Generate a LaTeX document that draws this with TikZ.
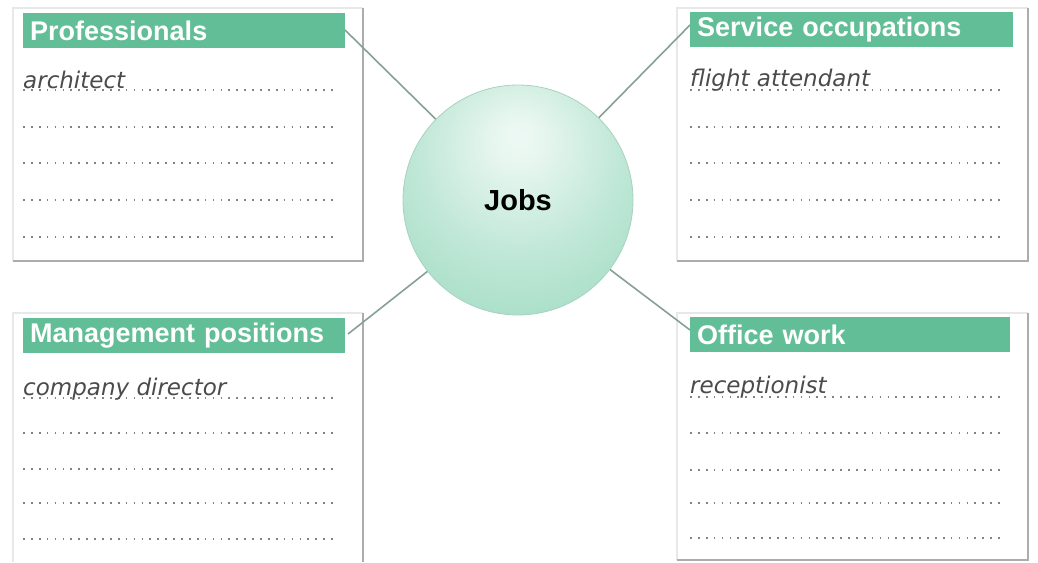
\documentclass[tikz,border=0pt]{standalone}
\usepackage{fontspec}
\setmainfont{Liberation Sans}
\newfontfamily\handfont{DejaVu Sans}
\definecolor{hdrgreen}{RGB}{98,190,150}
\definecolor{mint}{RGB}{140,212,182}
\definecolor{mintdark}{RGB}{110,180,150}
\definecolor{conncol}{RGB}{135,160,150}
\definecolor{handcol}{RGB}{75,75,75}
\definecolor{dotcol}{RGB}{130,130,130}
\pgfdeclareradialshading{jobball}{\pgfpoint{0bp}{14bp}}{%
  color(0bp)=(white!85!mint); color(5bp)=(white!80!mint); color(22bp)=(mint!55);
  color(45bp)=(mint!90); color(80bp)=(mint)}
\begin{document}
\begin{tikzpicture}[x=1pt,y=-1pt,
  hdr/.style={fill=hdrgreen, anchor=north west, inner xsep=7pt, inner ysep=0pt,
    minimum height=35pt, align=left, text=white,
    font=\bfseries\fontsize{27}{28}\selectfont},
  frameL/.style={draw=gray!18, line width=1.2pt},
  frameD/.style={draw=gray!65, line width=2pt},
  conn/.style={draw=conncol, line width=1.6pt},
  dotl/.style={draw=dotcol, line width=1.7pt, dash pattern=on 1.7pt off 6.2pt},
  hand/.style={anchor=base west, inner sep=0pt, text=handcol,
    font=\handfont\itshape\fontsize{23}{26}\selectfont},
  jobsball/.style={circle, minimum size=230pt, inner sep=0pt, shading=jobball,
    draw=mintdark!60, line width=0.8pt, font=\bfseries\fontsize{29}{32}\selectfont}]
\useasboundingbox (0,0) rectangle (1038,562);
% frames
\draw[frameL] (13,261) -- (13,8) -- (363,8);
\draw[frameD] (13,261) -- (363,261) -- (363,8);
\draw[frameL] (677,261) -- (677,8) -- (1028,8);
\draw[frameD] (677,261) -- (1028,261) -- (1028,8);
\draw[frameL] (13,562) -- (13,313) -- (363,313);
\draw[frameD] (363,313) -- (363,562);
\draw[frameL] (677,560) -- (677,313) -- (1028,313);
\draw[frameD] (677,560) -- (1028,560) -- (1028,313);
% headers
\node[hdr, text width=308pt] (hp) at (23,13) {Professionals};
\node[hdr, text width=309pt] (hs) at (690,12) {Service occupations};
\node[hdr, text width=308pt] (hm) at (23,318) {Management positions};
\node[hdr, text width=306pt] (ho) at (690,317) {Office work};
% dotted lines
\foreach \y in {90,127,163,200,237} {\draw[dotl] (23,\y) -- (336,\y);}
\foreach \y in {90,127,163,200,237} {\draw[dotl] (690,\y) -- (1002,\y);}
\foreach \y in {398,433,469,503,539} {\draw[dotl] (23,\y) -- (336,\y);}
\foreach \y in {397,433,470,503,538} {\draw[dotl] (690,\y) -- (1002,\y);}
% handwriting
\node[hand] (t1) at (23,88) {architect};
\node[hand] (t2) at (690,86) {flight attendant};
\node[hand] (t3) at (23,395) {company director};
\node[hand] (t4) at (690,393) {receptionist};
% centre
\node[jobsball] (jobs) at (518,200) {Jobs};
\coordinate (cp) at (345,30);
\coordinate (cs) at (690,25);
\coordinate (cm) at (348,334);
\coordinate (co) at (690,330);
\draw[conn] (cp) -- (jobs);
\draw[conn] (cs) -- (jobs);
\draw[conn] (cm) -- (jobs);
\draw[conn] (co) -- (jobs);
\end{tikzpicture}
\end{document}
